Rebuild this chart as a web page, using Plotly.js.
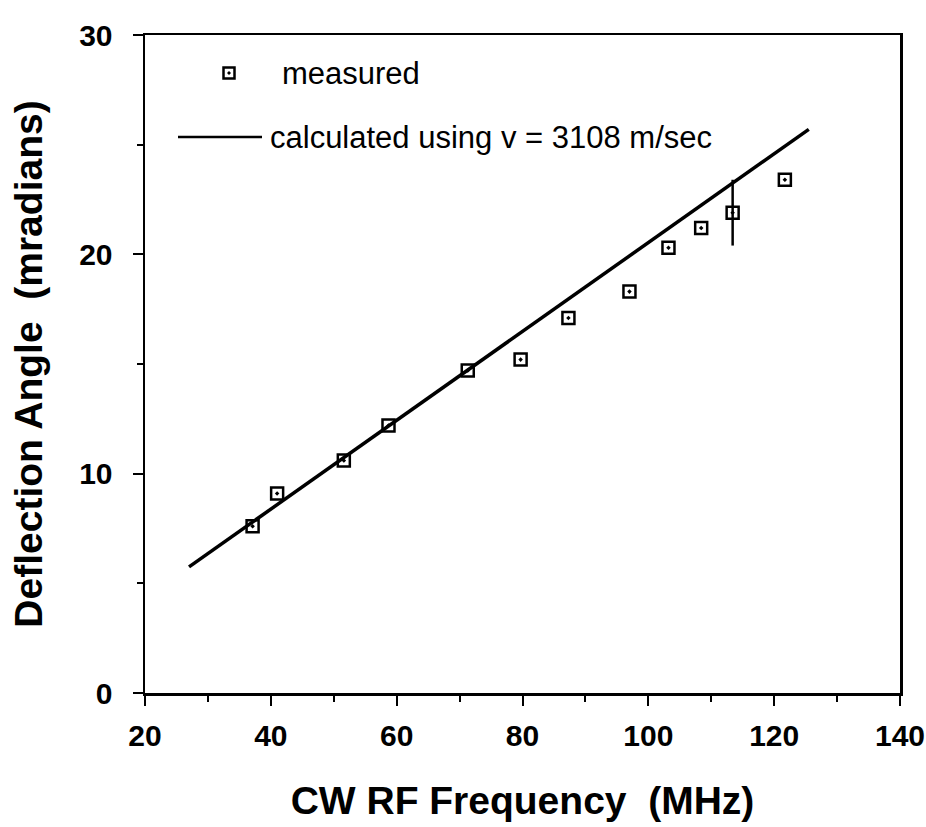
<!DOCTYPE html>
<html>
<head>
<meta charset="utf-8">
<script src="https://cdn.plot.ly/plotly-3.0.1.min.js"></script>
<style>html,body{margin:0;padding:0;background:#fff;}#chart{width:926px;height:827px;}</style>
</head>
<body>
<div id="chart"></div>
<script>
const freqMeasured = [37.1, 41.0, 51.6, 58.7, 71.3, 79.7, 87.3, 97.0, 103.2, 108.4, 113.4, 121.7];
const angleMeasured = [7.6, 9.1, 10.6, 12.2, 14.7, 15.2, 17.1, 18.3, 20.3, 21.2, 21.9, 23.4];
const angleError = [0, 0, 0, 0, 0, 0, 0, 0, 0, 0, 1.5, 0];
// Calculated line endpoints (v = 3108 m/sec)
const freqCalc = [27.0, 125.5];
const angleCalc = [5.75, 25.7];
// Axis ticks
const xTicks = [20, 40, 60, 80, 100, 120, 140];
const yTicks = [0, 10, 20, 30];

const FAM = 'Liberation Sans, Arial, Helvetica, sans-serif';

const traces = [
  {
    x: freqCalc, y: angleCalc, mode: 'lines', name: 'calculated using v = 3108 m/sec',
    line: {color: '#000', width: 3.5}, showlegend: false, hoverinfo: 'skip'
  },
  {
    x: freqMeasured, y: angleMeasured, mode: 'markers', name: 'measured',
    marker: {symbol: 'square-open-dot', size: 12, color: '#000', line: {color: '#000', width: 2.5}},
    error_y: {type: 'data', array: angleError, visible: true, color: '#000', thickness: 2.5, width: 0},
    showlegend: false
  }
];

const L = 145, R = 26, T = 35, B = 134;
const PW = 926 - L - R, PH = 827 - T - B;
const px = v => (v - L) / PW;          // pixel x -> paper
const py = v => (827 - B - v) / PH;    // pixel y -> paper

const tickFont = {family: FAM, size: 30, color: '#000', weight: 'bold'};
const titleFont = {family: FAM, size: 39, color: '#000', weight: 'bold'};
const legendFont = {family: FAM, size: 31, color: '#000'};
const layout = {
  width: 926, height: 827,
  margin: {l: L, r: R, t: T, b: B},
  paper_bgcolor: '#fff', plot_bgcolor: '#fff',
  showlegend: false,
  xaxis: {
    range: [20, 140], tickvals: xTicks, ticktext: xTicks.map(String),
    showgrid: false, zeroline: false,
    showline: true, linecolor: '#000', linewidth: 2.5, mirror: true,
    ticks: 'outside', ticklen: 10, tickwidth: 2, tickcolor: '#000',
    minor: {dtick: 10, tick0: 20, ticks: 'outside', ticklen: 6, tickwidth: 2, tickcolor: '#000'},
    tickfont: tickFont, ticklabelstandoff: 4, ticklabeloverflow: 'allow',
    title: {text: 'CW RF Frequency  (MHz)', font: titleFont, standoff: 36}
  },
  yaxis: {
    range: [0, 30], tickvals: yTicks, ticktext: yTicks.map(String),
    showgrid: false, zeroline: false,
    showline: true, linecolor: '#000', linewidth: 2.5, mirror: true,
    ticks: 'outside', ticklen: 10, tickwidth: 2, tickcolor: '#000',
    minor: {dtick: 5, tick0: 0, ticks: 'outside', ticklen: 6, tickwidth: 2, tickcolor: '#000'},
    tickfont: tickFont, ticklabelstandoff: 14, ticklabeloverflow: 'allow',
    title: {text: 'Deflection Angle  (mradians)', font: titleFont, standoff: 25}
  },
  shapes: [
    // legend sample: square marker
    {type: 'rect', xref: 'paper', yref: 'paper', x0: px(223.5), x1: px(234.5), y0: py(78.5), y1: py(67.5), line: {color: '#000', width: 2.5}},
    {type: 'rect', xref: 'paper', yref: 'paper', x0: px(228), x1: px(230), y0: py(74), y1: py(72), line: {color: '#000', width: 1}, fillcolor: '#000'},
    // legend sample: line
    {type: 'line', xref: 'paper', yref: 'paper', x0: px(178), x1: px(262), y0: py(137), y1: py(137), line: {color: '#000', width: 2.5}}
  ],
  annotations: [
    {text: 'measured', xref: 'paper', yref: 'paper', x: px(280), y: py(73), xanchor: 'left', yanchor: 'middle', showarrow: false, font: legendFont},
    {text: 'calculated using v = 3108 m/sec', xref: 'paper', yref: 'paper', x: px(268), y: py(137), xanchor: 'left', yanchor: 'middle', showarrow: false, font: legendFont}
  ]
};

Plotly.newPlot('chart', traces, layout, {displayModeBar: false, staticPlot: true});
</script>
</body>
</html>
